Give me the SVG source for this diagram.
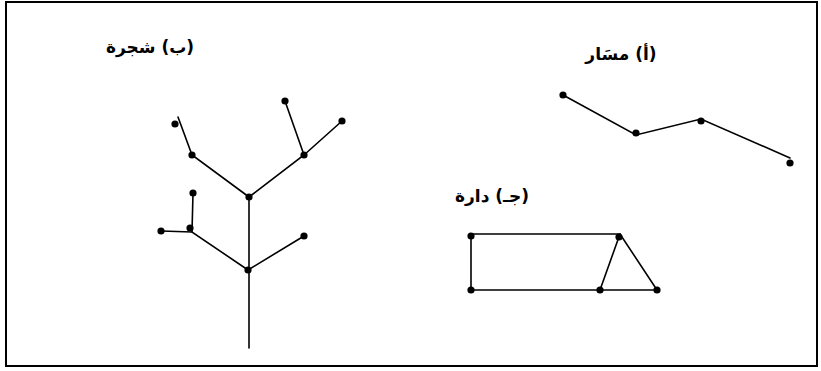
<svg xmlns="http://www.w3.org/2000/svg" width="821" height="371" viewBox="0 0 821 371">
<style>
.e{stroke:#000;stroke-width:1.6;fill:none;stroke-linecap:round}
.n{fill:#000}
.t{font-family:"DejaVu Sans","Noto Sans",sans-serif;font-weight:bold;font-size:17px;fill:#000;direction:rtl;text-anchor:middle}
</style>
<rect x="6" y="2" width="811" height="364" fill="#fff" stroke="#000" stroke-width="2"/>
<g id="labels">
<text class="t" x="150" y="53">(ب) شجرة</text>
<text class="t" x="621" y="60">(أ) مسَار</text>
<text class="t" x="492" y="202">(جـ) دارة</text>
</g>
<g id="connectors">
<path class="e" d="M249,348 V197"/>
<path class="e" d="M249,197 L192,155 L178,117"/>
<path class="e" d="M249,197 L304,155 L285,101"/>
<path class="e" d="M304,155 L342,121"/>
<path class="e" d="M248,270 L192,232 L161,231"/>
<path class="e" d="M192,232 L193,193"/>
<path class="e" d="M248,270 L304,236"/>
<path class="e" d="M563,95 L636,135 L701,119 L790,158"/>
<path class="e" d="M471,234 H620 L657,290 H471 Z"/>
<path class="e" d="M620,234 L600,290"/>
</g>
<g id="tree-nodes">
<circle class="n" cx="249" cy="197" r="3.6"/>
<circle class="n" cx="248" cy="270" r="3.6"/>
<circle class="n" cx="192" cy="155" r="3.6"/>
<circle class="n" cx="175" cy="124" r="3.6"/>
<circle class="n" cx="304" cy="155" r="3.6"/>
<circle class="n" cx="285" cy="101" r="3.6"/>
<circle class="n" cx="342" cy="121" r="3.6"/>
<circle class="n" cx="190" cy="228" r="3.6"/>
<circle class="n" cx="193" cy="193" r="3.6"/>
<circle class="n" cx="161" cy="231" r="3.6"/>
<circle class="n" cx="304" cy="236" r="3.6"/>
</g>
<g id="path-nodes">
<circle class="n" cx="563" cy="95" r="3.6"/>
<circle class="n" cx="636" cy="133" r="3.6"/>
<circle class="n" cx="701" cy="121" r="3.6"/>
<circle class="n" cx="790" cy="163" r="3.6"/>
</g>
<g id="cycle-nodes">
<circle class="n" cx="471" cy="236" r="3.6"/>
<circle class="n" cx="471" cy="290" r="3.6"/>
<circle class="n" cx="619" cy="237" r="3.6"/>
<circle class="n" cx="600" cy="290" r="3.6"/>
<circle class="n" cx="657" cy="290" r="3.6"/>
</g>
</svg>
